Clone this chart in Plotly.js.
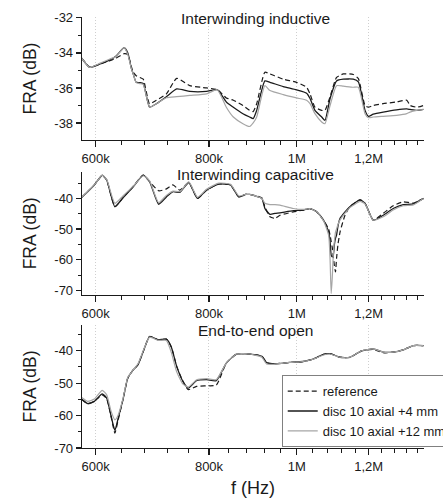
<!DOCTYPE html>
<html>
<head>
<meta charset="utf-8">
<script src="https://cdn.plot.ly/plotly-3.0.1.min.js"></script>
<style>
html,body{margin:0;padding:0;background:#fff;}
#chart{width:443px;height:498px;}
</style>
</head>
<body>
<div id="chart"></div>
<script>
// ---------- DATA (frequencies in kHz, FRA in dB) ----------
const seriesNames = ["reference", "disc 10 axial +4 mm", "disc 10 axial +12 mm"];
const panelTitles = ["Interwinding inductive", "Interwinding capacitive", "End-to-end open"];

// Panel 1: Interwinding inductive
const incFreq = [579, 591, 606, 622, 632, 645, 651, 657, 660, 665, 671, 677, 688, 700, 718, 737, 762, 795, 817, 836, 851, 872, 887, 895, 903, 922, 934, 966, 999, 1025, 1034, 1047, 1065, 1074, 1088, 1106, 1125, 1154, 1169, 1189, 1199, 1214, 1245, 1288, 1322, 1333, 1356, 1379];
const incRef  = [-34.3, -34.8, -34.64, -34.45, -34.3, -34.04, -34.1, -34.8, -35.1, -35.3, -35.4, -35.5, -36.9, -36.7, -36.34, -35.45, -35.87, -36.0, -36.1, -36.57, -36.7, -37.0, -37.28, -37.35, -36.9, -35.1, -35.2, -35.5, -35.68, -35.96, -36.34, -37.1, -37.28, -37.28, -36.5, -35.4, -35.2, -35.23, -35.47, -37.0, -37.1, -37.0, -36.9, -36.8, -36.7, -37.0, -37.1, -37.0];
const incAx4  = [-34.3, -34.83, -34.64, -34.4, -34.17, -33.7, -34.0, -34.9, -35.2, -35.68, -35.7, -35.75, -37.1, -36.9, -36.5, -36.06, -36.2, -36.2, -36.1, -36.8, -37.1, -37.47, -37.66, -37.75, -37.28, -35.6, -35.68, -35.92, -36.11, -36.3, -36.6, -37.28, -37.66, -37.85, -36.6, -35.6, -35.5, -35.5, -35.66, -37.28, -37.62, -37.5, -37.38, -37.25, -37.2, -37.23, -37.28, -37.23];
const incAx12 = [-34.3, -34.83, -34.6, -34.35, -34.2, -33.7, -34.1, -34.9, -35.2, -35.7, -35.75, -35.8, -37.1, -36.9, -36.56, -36.5, -36.43, -36.34, -36.1, -37.1, -37.66, -38.04, -38.2, -38.0, -37.66, -35.87, -36.15, -36.38, -36.57, -36.7, -36.9, -37.47, -37.94, -38.04, -37.0, -35.87, -35.9, -35.96, -35.96, -37.47, -37.7, -37.66, -37.62, -37.57, -37.47, -37.38, -37.28, -37.23];

// Panel 2: Interwinding capacitive
const capFreq = [579, 598, 610, 617, 630, 643, 660, 677, 688, 704, 718, 730, 743, 760, 777, 795, 820, 845, 863, 878, 887, 915, 922, 934, 946, 958, 991, 1016, 1034, 1052, 1070, 1084, 1088, 1091, 1094, 1097, 1100, 1103, 1106, 1110, 1116, 1130, 1144, 1174, 1189, 1214, 1245, 1277, 1310, 1344, 1379];
const capRef  = [-39.7, -35.6, -32.5, -34.0, -42.7, -39.8, -36.0, -32.4, -34.5, -37.5, -36.9, -35.6, -37.3, -34.8, -40.0, -37.3, -35.3, -35.6, -39.5, -38.7, -38.7, -39.8, -42.8, -46.0, -46.5, -45.5, -44.4, -43.8, -43.3, -44.4, -47.1, -50.0, -52.0, -54.0, -56.0, -59.0, -62.0, -64.0, -59.6, -55.0, -50.9, -45.5, -42.7, -40.5, -41.6, -47.1, -44.9, -42.4, -41.1, -41.5, -40.0];
const capAx4  = [-39.7, -35.6, -32.4, -34.0, -42.7, -39.8, -36.2, -32.4, -34.5, -41.9, -39.5, -37.8, -38.0, -34.8, -40.0, -37.3, -35.3, -35.6, -39.5, -38.7, -38.7, -40.0, -43.3, -45.2, -44.9, -44.7, -44.0, -43.8, -43.3, -44.4, -47.1, -50.9, -54.0, -58.5, -59.1, -58.5, -55.0, -53.0, -52.0, -49.0, -46.5, -44.4, -42.7, -40.5, -41.6, -47.1, -45.5, -43.3, -42.0, -41.8, -40.0];
const capAx12 = [-39.7, -35.6, -32.4, -33.8, -41.6, -39.2, -36.0, -32.6, -34.3, -41.4, -39.0, -37.6, -37.8, -34.6, -39.6, -37.0, -35.0, -35.4, -39.2, -38.7, -38.7, -40.0, -41.6, -42.0, -42.0, -42.2, -43.3, -43.6, -43.3, -44.4, -47.3, -52.0, -60.0, -71.0, -66.0, -58.0, -54.0, -51.0, -50.0, -48.5, -47.0, -44.8, -43.0, -41.0, -41.8, -47.1, -46.0, -43.8, -42.4, -42.1, -40.0];

// Panel 3: End-to-end open
const e2eFreq = [579, 588, 598, 610, 617, 624, 630, 635, 643, 651, 660, 668, 677, 688, 703, 718, 727, 737, 749, 759, 775, 795, 815, 836, 858, 887, 915, 926, 942, 982, 1016, 1042, 1070, 1088, 1116, 1144, 1179, 1214, 1245, 1277, 1310, 1344, 1379];
const e2eRef  = [-55.0, -56.3, -55.6, -53.6, -54.8, -60.4, -65.4, -61.5, -55.1, -48.4, -45.9, -44.3, -40.2, -35.6, -36.6, -36.4, -38.8, -44.8, -49.5, -52.0, -51.0, -50.8, -50.6, -43.8, -41.0, -41.0, -41.7, -43.6, -44.0, -43.6, -43.3, -42.6, -41.1, -40.9, -42.0, -42.0, -40.0, -39.6, -40.6, -40.4, -39.7, -38.4, -38.4];
const e2eAx4  = [-54.9, -56.3, -55.6, -53.3, -54.6, -60.2, -64.6, -61.0, -55.1, -48.4, -45.9, -44.3, -40.2, -35.6, -36.6, -36.4, -38.8, -44.8, -49.5, -51.5, -49.2, -48.9, -49.2, -43.8, -41.0, -41.0, -41.7, -43.6, -44.0, -43.6, -43.3, -42.6, -41.1, -40.9, -42.0, -42.0, -40.0, -39.4, -40.4, -40.4, -39.7, -38.4, -38.4];
const e2eAx12 = [-54.4, -55.6, -54.9, -52.2, -53.6, -58.7, -61.3, -60.0, -54.8, -48.2, -45.9, -44.0, -40.0, -35.8, -36.8, -36.8, -40.5, -46.5, -50.3, -51.2, -49.0, -48.6, -48.9, -43.8, -41.0, -41.0, -42.0, -44.1, -44.2, -43.6, -43.3, -42.6, -41.3, -41.0, -42.0, -42.0, -40.0, -39.4, -40.4, -40.4, -39.7, -38.4, -38.4];

// Tick labels
const xTickVals = [600, 800, 1000, 1200];
const xTickText = ["600k", "800k", "1M", "1,2M"];
const xMinorVals = [640, 680, 720, 760, 840, 880, 920, 960, 1040, 1080, 1120, 1160, 1240, 1280, 1320, 1360];
const incYTicks = [-38, -36, -34, -32];
const incYText = ["-38", "-36", "-34", "-32"];
const incYMinor = [-39, -37, -35, -33];
const dbYTicks = [-70, -60, -50, -40];
const dbYText = ["-70", "-60", "-50", "-40"];
const dbYMinor = [-65, -55, -45, -35];

// ---------- BUILD ----------
const FONT = "Liberation Sans, Arial, Helvetica, sans-serif";
const styles = [
  {color: "#1a1a1a", width: 1.2, dash: "5px,3px"},
  {color: "#1a1a1a", width: 1.3, dash: "solid"},
  {color: "#a6a6a6", width: 1.2, dash: "solid"}
];
const panels = [
  {f: incFreq, s: [incRef, incAx4, incAx12]},
  {f: capFreq, s: [capRef, capAx4, capAx12]},
  {f: e2eFreq, s: [e2eRef, e2eAx4, e2eAx12]}
];
const traces = [];
panels.forEach((p, pi) => {
  const xs = p.f.map(v => v * 1000);
  p.s.forEach((ys, si) => {
    traces.push({
      type: "scatter", mode: "lines",
      x: xs, y: ys,
      name: seriesNames[si],
      showlegend: pi === 0,
      xaxis: pi === 0 ? "x" : "x" + (pi + 1),
      yaxis: pi === 0 ? "y" : "y" + (pi + 1),
      line: {color: styles[si].color, width: styles[si].width, dash: styles[si].dash, shape: "spline", smoothing: 0.5},
      hoverinfo: "skip"
    });
  });
});

const xRange = [Math.log10(579500), Math.log10(1381000)];
function xAxis(anchor) {
  return {
    type: "log", range: xRange, anchor: anchor,
    tickmode: "array", tickvals: xTickVals.map(v => v * 1000), ticktext: xTickText,
    ticks: "outside", ticklen: 6, tickwidth: 1.2, tickcolor: "#1a1a1a",
    minor: {tickmode: "array", tickvals: xMinorVals.map(v => v * 1000), ticks: "outside", ticklen: 4, tickwidth: 1, tickcolor: "#1a1a1a", showgrid: false},
    showline: true, linecolor: "#1a1a1a", linewidth: 1.3,
    showgrid: true, gridcolor: "#cfcfcf", griddash: "1px,2px", gridwidth: 1,
    zeroline: false, mirror: false,
    tickfont: {family: FONT, size: 13, color: "#1a1a1a"}
  };
}
function yAxis(anchor, domain, range, tv, tt, minor) {
  return {
    domain: domain, range: range, anchor: anchor,
    tickmode: "array", tickvals: tv, ticktext: tt,
    ticks: "outside", ticklen: 5, tickwidth: 1.2, tickcolor: "#1a1a1a",
    minor: {tickmode: "array", tickvals: minor, ticks: "outside", ticklen: 3, tickwidth: 1, tickcolor: "#1a1a1a", showgrid: false},
    showline: true, linecolor: "#1a1a1a", linewidth: 1.3,
    showgrid: false, zeroline: false,
    tickfont: {family: FONT, size: 13, color: "#1a1a1a"},
    title: {text: "FRA (dB)", font: {family: FONT, size: 17.5, color: "#1a1a1a"}, standoff: 13}
  };
}

const layout = {
  width: 443, height: 498,
  margin: {l: 82.3, r: 19, t: 16.7, b: 49.7, autoexpand: false},
  paper_bgcolor: "#ffffff", plot_bgcolor: "#ffffff",
  font: {family: FONT, size: 13, color: "#1a1a1a"},
  xaxis: xAxis("y"),
  xaxis2: xAxis("y2"),
  xaxis3: Object.assign(xAxis("y3"), {title: {text: "f (Hz)", font: {family: FONT, size: 18, color: "#1a1a1a"}, standoff: 24}}),
  yaxis: yAxis("x", [0.7143, 1], [-38.98, -31.95], incYTicks, incYText, incYMinor),
  yaxis2: yAxis("x2", [0.3552, 0.6409], [-71.5, -31.3], dbYTicks, dbYText, dbYMinor),
  yaxis3: yAxis("x3", [0, 0.2857], [-70, -32], dbYTicks, dbYText, dbYMinor),
  showlegend: true,
  legend: {
    x: 0.584, y: 0.169, xanchor: "left", yanchor: "top",
    bgcolor: "#ffffff", bordercolor: "#808080", borderwidth: 1,
    font: {family: FONT, size: 13, color: "#1a1a1a"},
    tracegroupgap: 0, traceorder: "normal"
  },
  annotations: panelTitles.map((t, i) => ({
    text: t, showarrow: false,
    xref: "paper", x: 0.506, xanchor: "center",
    yref: (i === 0 ? "y" : "y" + (i + 1)) + " domain", y: 1, yanchor: "middle",
    yshift: [-1, -3, -6][i],
    font: {family: FONT, size: 15.5, color: "#1a1a1a"}
  }))
};

Plotly.newPlot("chart", traces, layout, {displayModeBar: false, staticPlot: true});
</script>
</body>
</html>
